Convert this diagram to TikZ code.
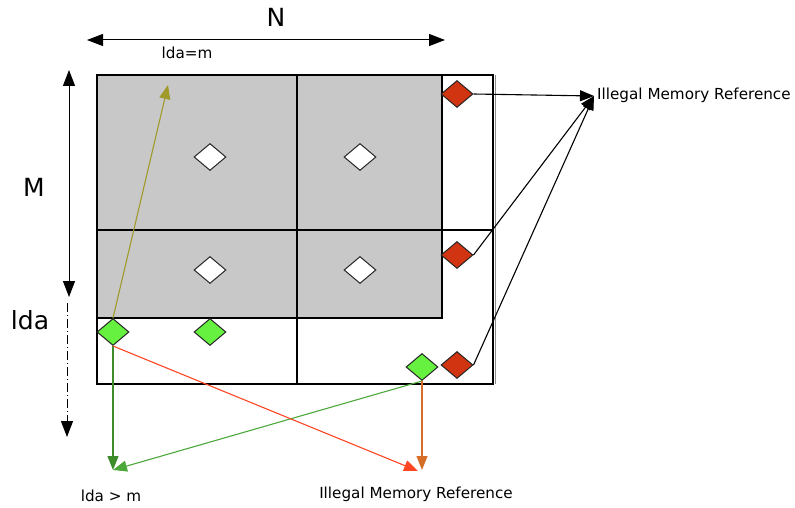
\documentclass[tikz,border=0pt]{standalone}
\usepackage{fontspec}
\setmainfont{DejaVu Sans}
\usetikzlibrary{shapes.geometric,arrows.meta}

\begin{document}
\begin{tikzpicture}[x = 1pt, y = -1pt]
\tikzstyle{diamondStyle} = [shape = diamond, minimum width = 32pt, minimum height = 27pt, inner sep = 0pt, draw = black!85, line width = 1pt]
\tikzstyle{whiteStyle} = [diamondStyle, fill = white]
\tikzstyle{greenStyle} = [diamondStyle, fill = {rgb,255:red,102; green,240; blue,64}]
\tikzstyle{redStyle} = [diamondStyle, fill = {rgb,255:red,208; green,52; blue,16}]
\tikzstyle{bigLabel} = [font = \fontsize{25}{29}\selectfont]
\tikzstyle{smallLabel} = [font = \fontsize{15.2}{18}\selectfont, inner sep = 0pt]
\tikzstyle{EdgeStyle} = [line width = 1.1pt, -{Triangle[length = 14pt, width = 11pt]}]
\tikzstyle{DimStyle} = [line width = 1pt, {Triangle[length = 16pt, width = 12pt]}-{Triangle[length = 16pt, width = 12pt]}]
\useasboundingbox (0,0) rectangle (795,508);
% the matrix
\fill[fill = {rgb,255:red,200; green,200; blue,200}] (97,75) rectangle (442,318);
\draw[line width = 1.1pt] (97,75) rectangle (442,318);
\draw[line width = 1.6pt] (97,75) rectangle (493,384);
\draw[line width = 0.8pt, black!45] (495.5,75) -- (495.5,384);
\draw[line width = 1.6pt] (297,75) -- (297,384);
\draw[line width = 1.6pt] (97,230) -- (493,230);
% sizes
\node[bigLabel] (N) at (276,17) {N};
\node[bigLabel] (M) at (34,187) {M};
\node[bigLabel] (lda) at (30,320) {lda};
\coordinate (nL) at (87,40);
\coordinate (nR) at (445,40);
\coordinate (mT) at (69,70);
\coordinate (mB) at (69,297);
\coordinate (lT) at (67,303);
\coordinate (lB) at (67,437);
\draw[DimStyle] (nL) -- (nR);
\draw[DimStyle] (mT) -- (mB);
\draw[line width = 1pt, dash pattern = on 9pt off 3pt on 1pt off 3pt, -{Triangle[length = 16pt, width = 12pt]}] (lT) -- (lB);
% elements
\node[whiteStyle] (w0) at (210,157) {};
\node[whiteStyle] (w1) at (360,157) {};
\node[whiteStyle] (w2) at (210,270) {};
\node[whiteStyle] (w3) at (360,270) {};
\node[redStyle] (r0) at (457,94) {};
\node[redStyle] (r1) at (457,255) {};
\node[redStyle] (r2) at (457,365) {};
\node[greenStyle] (g0) at (113,332) {};
\node[greenStyle] (g1) at (210,332) {};
\node[greenStyle] (g2) at (422,367) {};
% labels
\node[smallLabel, anchor = west] (illR) at (597,95) {Illegal Memory Reference};
\node[smallLabel] (illB) at (416,494) {Illegal Memory Reference};
\node[smallLabel] (gt) at (111,496) {lda > m};
\node[smallLabel] (eq) at (187,53) {lda=m};
\coordinate (tipR) at (594,96);
\coordinate (tipO) at (168,85);
\coordinate (tipG) at (113,470);
\coordinate (tipB) at (418,471);
\coordinate (tipC) at (422,470);
% references
\draw[EdgeStyle] (r0.east) -- (tipR);
\draw[EdgeStyle] (r1.east) -- (tipR);
\draw[EdgeStyle] (r2.east) -- (tipR);
\draw[EdgeStyle, color = {rgb,255:red,160; green,154; blue,42}] (g0.north) -- (tipO);
\draw[EdgeStyle, color = {rgb,255:red,60; green,140; blue,42}] (g0.south) -- (tipG);
\draw[EdgeStyle, color = {rgb,255:red,76; green,168; blue,58}] (g2.south) -- (tipG);
\draw[EdgeStyle, color = {rgb,255:red,255; green,69; blue,36}] (g0.south) -- (tipB);
\draw[EdgeStyle, color = {rgb,255:red,214; green,110; blue,40}] (g2.south) -- (tipC);
\end{tikzpicture}
\end{document}
